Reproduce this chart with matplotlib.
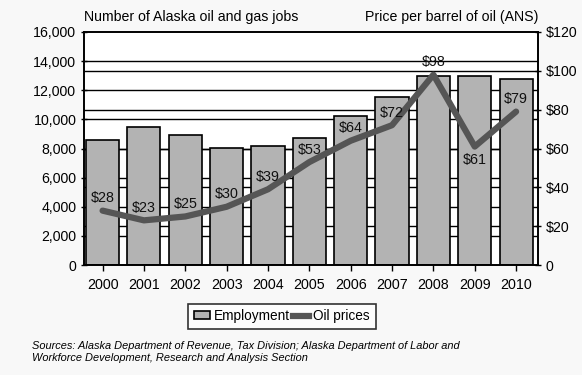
import numpy as np
import matplotlib.pyplot as plt
from matplotlib.patches import Patch
from matplotlib.lines import Line2D

plt.rcParams['font.family'] = ['Liberation Sans', 'DejaVu Sans']

years = ['2000', '2001', '2002', '2003', '2004', '2005',
         '2006', '2007', '2008', '2009', '2010']
jobs = [8600, 9500, 8900, 8050, 8150, 8750, 10200, 11550, 13000, 12950, 12750]
oil = [28, 23, 25, 30, 39, 53, 64, 72, 98, 61, 79]
label_below = [False] * 9 + [True, False]

bar_color = '#b3b3b3'
line_color = '#555555'

fig = plt.figure(figsize=(5.82, 3.75), dpi=100, facecolor='#f8f8f8')
ax = fig.add_axes([0.1443, 0.2933, 0.7801, 0.6214])
ax2 = ax.twinx()

x = np.arange(len(years))

# grid lines from both scales sit behind the bars
for v in range(2000, 16000, 2000):
    ax.axhline(v, color='black', lw=1.0, zorder=0)
for v in range(20, 120, 20):
    ax.axhline(v * 16000 / 120, color='black', lw=1.0, zorder=0)

ax.bar(x, jobs, width=0.8, color=bar_color, edgecolor='black', lw=1.2, zorder=2)
ax.set_xlim(-0.45, 10.53)
ax.set_ylim(0, 16000)
ax.set_yticks(range(0, 16001, 2000))
ax.set_yticklabels([f'{v:,}' for v in range(0, 16001, 2000)])
ax.set_xticks(x)
ax.set_xticklabels(years)
ax.set_facecolor('white')

ax2.plot(x, oil, color=line_color, lw=4.5, solid_capstyle='round', zorder=3)
ax2.set_ylim(0, 120)
ax2.set_yticks(range(0, 121, 20))
ax2.set_yticklabels(['0'] + [f'${v}' for v in range(20, 121, 20)])

for xi, v, below in zip(x, oil, label_below):
    ax2.annotate(f'${v}', (xi, v), xytext=(0, -10 if below else 9),
                 textcoords='offset points', ha='center', va='center',
                 fontsize=10.3, color='#111111')

for a in (ax, ax2):
    for s in a.spines.values():
        s.set_linewidth(1.2)
        s.set_color('black')
ax.tick_params(axis='x', direction='out', length=4, width=1, labelsize=10.3, pad=5)
ax.tick_params(axis='y', direction='inout', length=5, width=1, labelsize=10.2, pad=3)
ax2.tick_params(axis='y', direction='inout', length=5, width=1, labelsize=10.2, pad=3)

fig.text(0.1443, 0.935, 'Number of Alaska oil and gas jobs', fontsize=10.2,
         ha='left', va='bottom')
fig.text(0.9244, 0.935, 'Price per barrel of oil (ANS)', fontsize=10.2,
         ha='right', va='bottom')

handles = [Patch(facecolor=bar_color, edgecolor='black', lw=1.2),
           Line2D([], [], color=line_color, lw=4.5)]
leg = fig.legend(handles, ['Employment', 'Oil prices'], loc='center',
                 bbox_to_anchor=(0.4845, 0.157), ncol=2, fontsize=9.8,
                 frameon=True, fancybox=False, edgecolor='black',
                 handlelength=1.2, handleheight=0.55, handletextpad=0.3,
                 columnspacing=0.2, borderpad=0.4)
leg.get_frame().set_linewidth(1.2)

fig.text(0.055, 0.061, 'Sources: Alaska Department of Revenue, Tax Division; '
         'Alaska Department of Labor and\nWorkforce Development, Research '
         'and Analysis Section', fontsize=7.9, style='italic',
         ha='left', va='center', linespacing=1.3)

fig.savefig('out.png', dpi=100, facecolor=fig.get_facecolor())
